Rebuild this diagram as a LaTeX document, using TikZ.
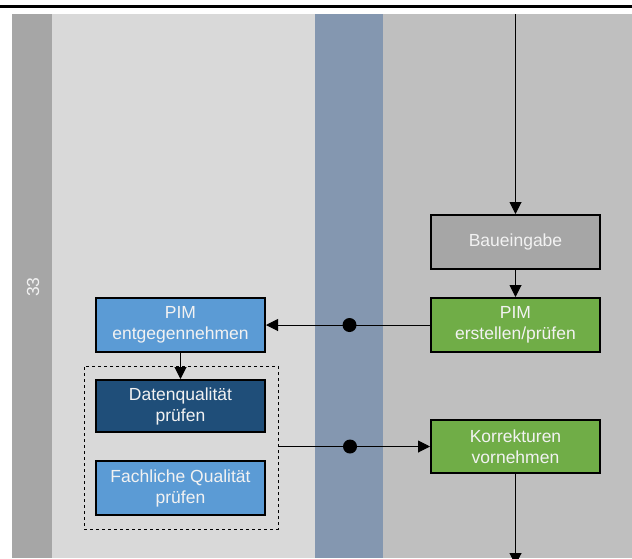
\documentclass[tikz,border=0pt]{standalone}
\usepackage{fontspec}
\setmainfont{Liberation Sans}
\usetikzlibrary{arrows.meta}
\definecolor{bandA}{HTML}{A6A6A6}
\definecolor{bandB}{HTML}{D9D9D9}
\definecolor{bandC}{HTML}{8497B0}
\definecolor{bandD}{HTML}{BFBFBF}
\definecolor{boxgray}{HTML}{A6A6A6}
\definecolor{boxgreen}{HTML}{70AD47}
\definecolor{boxblue}{HTML}{5B9BD5}
\definecolor{boxdark}{HTML}{1F4E79}
\definecolor{txt}{HTML}{F2F2F2}
\tikzset{
  task/.style={draw=black, line width=2pt, rectangle, inner sep=0pt,
    minimum width=169pt, minimum height=54pt, align=center, text=txt,
    font=\fontsize{17.5}{21}\selectfont},
  arr/.style={line width=1pt, -{Triangle[length=12pt,width=12pt]}},
  conn/.style={line width=1pt},
  dotnode/.style={circle, fill=black, inner sep=0pt, minimum size=14pt},
  grp/.style={draw=black, line width=1pt, dash pattern=on 3pt off 3pt}
}
\begin{document}
\begin{tikzpicture}[x=1pt,y=-1pt]
\useasboundingbox (0,0) rectangle (632,558);
\clip (0,0) rectangle (632,558);
\fill[white] (0,0) rectangle (632,558);
% top rule
\fill[black] (0,4.5) rectangle (632,7.5);
% bands
\fill[bandA] (12,14) rectangle (52,558);
\fill[bandB] (52,14) rectangle (315,558);
\fill[bandC] (315,14) rectangle (383,558);
\fill[bandD] (383,14) rectangle (632,558);
\node[rotate=90, text=txt, font=\fontsize{17.5}{21}\selectfont] (lane) at (33,287) {33};
% nodes
\node[task, fill=boxgray] (bau) at (515.5,242) {Baueingabe};
\node[task, fill=boxgreen] (pimE) at (515.5,325) {PIM\\erstellen/prüfen};
\node[task, fill=boxblue] (pimA) at (180.5,325) {PIM\\entgegennehmen};
\node[grp, rectangle, inner sep=0pt, minimum width=194pt, minimum height=163pt] (group) at (181,447.5) {};
\node[task, fill=boxdark, minimum height=52pt] (dq) at (180.5,406) {Datenqualität\\prüfen};
\node[task, fill=boxblue] (fq) at (180.5,488) {Fachliche Qualität\\prüfen};
\node[task, fill=boxgreen, minimum height=53pt] (korr) at (515.5,446.5) {Korrekturen\\vornehmen};
\coordinate (top) at (515.5,14);
\coordinate (bottom) at (515.5,565);
% connectors
\draw[arr] (top) -- (bau.north);
\draw[arr] (bau.south) -- (pimE.north);
\draw[arr] (pimE.west) -- (pimA.east);
\node[dotnode] (d1) at (349.5,325) {};
\draw[arr] (pimA.south) -- (dq.north);
\draw[arr] (group.east |- korr.west) -- (korr.west);
\node[dotnode] (d2) at (350,446.5) {};
\draw[arr] (korr.south) -- (bottom);
\end{tikzpicture}
\end{document}
